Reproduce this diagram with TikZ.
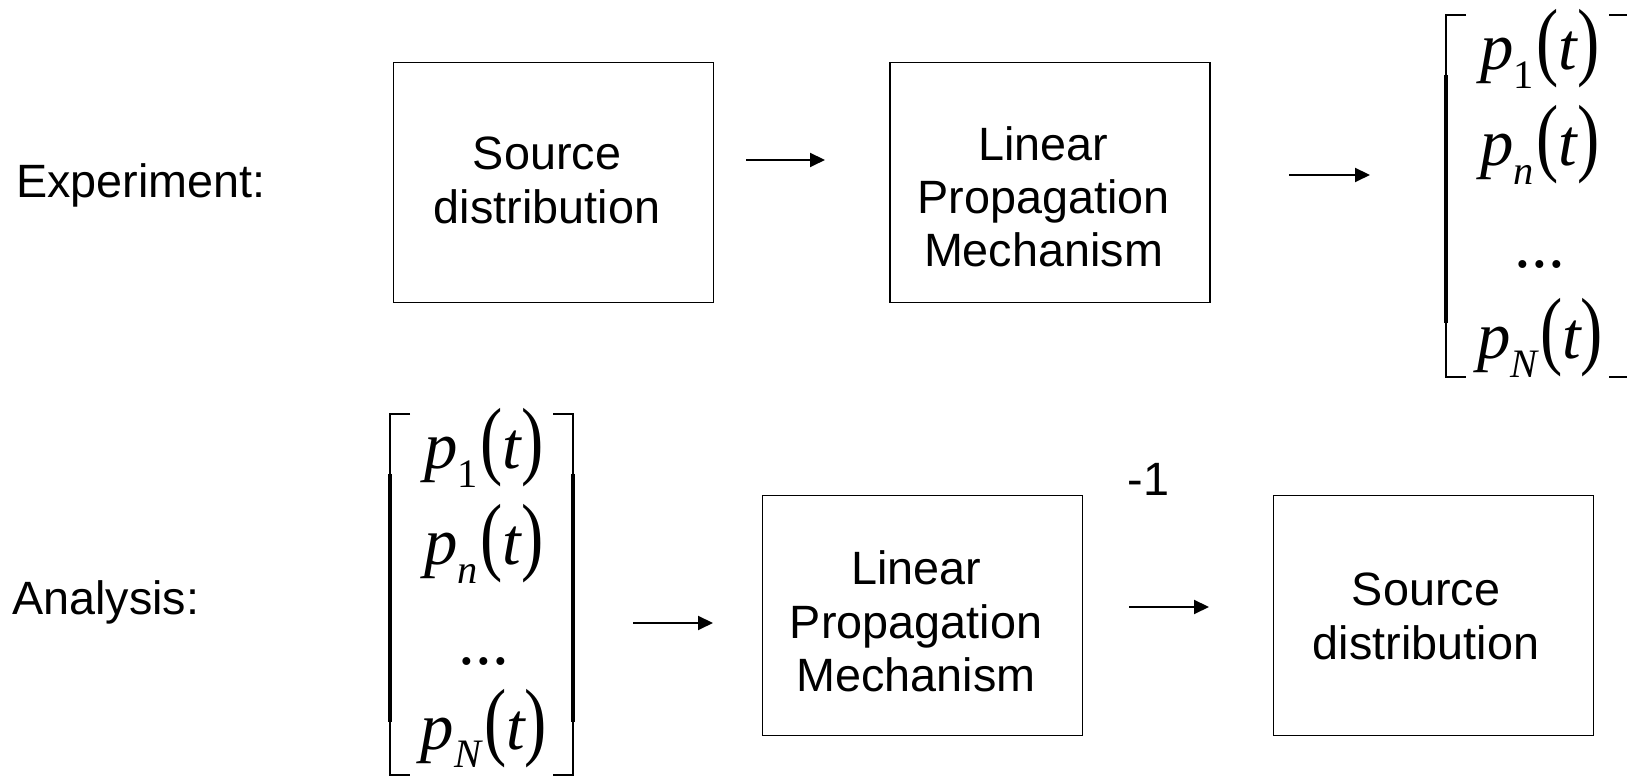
\documentclass[tikz,border=0pt]{standalone}
\usepackage{fontspec}
\usepackage{graphicx}
\setmainfont{Liberation Sans}
\newfontfamily\eqfont{Liberation Serif}
\usetikzlibrary{arrows.meta}

% one component p_k(t) with tall parentheses
\newcommand\ptrace[1]{p\raisebox{-0.28em}{\fontsize{23}{26}\selectfont #1}\kern0.04em\scalebox{1}[1.3]{\upshape(}t\scalebox{1}[1.3]{\upshape)}}

\tikzset{
  block/.style={draw, line width=1.1pt, minimum width=6.4cm, minimum height=4.8cm},
  inside/.style={align=center, font=\fontsize{26.6}{30.3}\selectfont},
  tag/.style={anchor=base west, font=\fontsize{26.6}{30.3}\selectfont},
  flow/.style={line width=1.1pt, -{Triangle[length=0.3cm,width=0.28cm]}},
  entry/.style={inner sep=0pt, font=\fontsize{38}{44}\selectfont\eqfont\itshape},
  brthin/.style={line width=0.85pt},
  brthick/.style={line width=2.3pt}
}

\begin{document}
\begin{tikzpicture}
\clip (0,0) rectangle (32.54,15.54);

% Experiment row
\node[tag] (exp) at (0.2,11.58) {Experiment:};
\node[block, label={[inside, xshift=-0.13cm, yshift=0.04cm]center:{Source\\distribution}}] (src) at (11.07,11.89) {};
\node[block, label={[inside, xshift=-0.13cm, yshift=-0.29cm]center:{Linear\\Propagation\\Mechanism}}] (prop) at (21.0,11.89) {};
\coordinate (a1s) at (14.92,12.34);
\coordinate (a1e) at (16.5,12.34);
\coordinate (a2s) at (25.78,12.04);
\coordinate (a2e) at (27.4,12.04);
\draw[flow] (a1s) -- (a1e);
\draw[flow] (a2s) -- (a2e);

% measured vector
\node[entry] (m1) at (30.8,14.56) {\ptrace{\upshape 1}};
\node[entry] (mn) at (30.8,12.64) {\ptrace{n}};
\node[entry] (md) at (30.8,10.25) {\upshape ...};
\node[entry] (mN) at (30.8,8.78) {\ptrace{N}};
\draw[brthin] (29.32,15.24) -- (28.92,15.24) -- (28.92,8.0) -- (29.32,8.0);
\draw[brthin] (32.18,15.24) -- (32.58,15.24) -- (32.58,8.0) -- (32.18,8.0);
\draw[brthick] (28.92,14.04) -- (28.92,9.08);
\draw[brthick] (32.58,14.04) -- (32.58,9.08);

% Analysis row
\node[tag] (ana) at (0.12,3.24) {Analysis:};
\node[entry] (d1) at (9.68,6.58) {\ptrace{\upshape 1}};
\node[entry] (dn) at (9.68,4.66) {\ptrace{n}};
\node[entry] (dd) at (9.68,2.3) {\upshape ...};
\node[entry] (dN) at (9.68,0.97) {\ptrace{N}};
\draw[brthin] (8.2,7.26) -- (7.8,7.26) -- (7.8,0.04) -- (8.2,0.04);
\draw[brthin] (11.06,7.26) -- (11.46,7.26) -- (11.46,0.04) -- (11.06,0.04);
\draw[brthick] (7.8,6.06) -- (7.8,1.1);
\draw[brthick] (11.46,6.06) -- (11.46,1.1);

\node[block, label={[inside, xshift=-0.13cm, yshift=-0.12cm]center:{Linear\\Propagation\\Mechanism}}] (iprop) at (18.45,3.23) {};
\node[tag, anchor=center] (inv) at (22.97,5.95) {-1};
\node[block, label={[inside, xshift=-0.15cm, yshift=-0.02cm]center:{Source\\distribution}}] (isrc) at (28.67,3.23) {};
\coordinate (a3s) at (12.66,3.08);
\coordinate (a3e) at (14.26,3.08);
\coordinate (a4s) at (22.58,3.4);
\coordinate (a4e) at (24.18,3.4);
\draw[flow] (a3s) -- (a3e);
\draw[flow] (a4s) -- (a4e);
\end{tikzpicture}
\end{document}
